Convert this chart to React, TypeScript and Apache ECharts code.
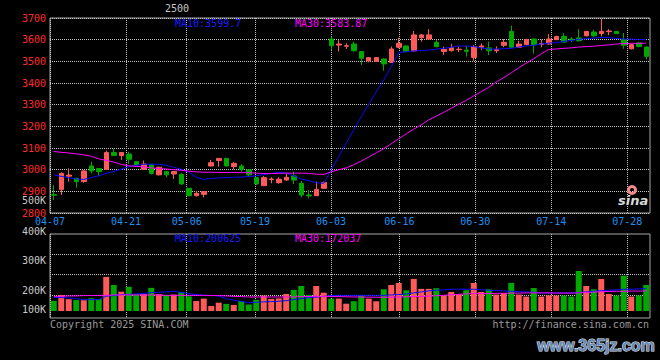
import React, { useEffect, useRef } from 'react';
import * as echarts from 'echarts';

const dates = ['04-07','04-08','04-09','04-10','04-11','04-14','04-15','04-16','04-17','04-18','04-21','04-22','04-23','04-24','04-25','04-28','04-29','04-30','05-06','05-07','05-08','05-09','05-12','05-13','05-14','05-15','05-16','05-19','05-20','05-21','05-22','05-23','05-26','05-27','05-28','05-29','05-30','06-03','06-04','06-05','06-06','06-09','06-10','06-11','06-12','06-13','06-16','06-17','06-18','06-19','06-20','06-23','06-24','06-25','06-26','06-27','06-30','07-01','07-02','07-03','07-04','07-07','07-08','07-09','07-10','07-11','07-14','07-15','07-16','07-17','07-18','07-21','07-22','07-23','07-24','07-25','07-28','07-29','07-30','07-31'];

const tickDates = ['04-07','04-21','05-06','05-19','06-03','06-16','06-30','07-14','07-28'];

const opens = [2885,2909,2970,2960,2945,3017,3005,3002,3079,3065,3072,3037,3002,3022,2976,2991,2980,2979,2914,2880,2886,3017,3042,3052,3014,3017,2999,2963,2926,2955,2940,2952,2971,2937,2883,2880,2914,3603,3575,3570,3580,3545,3502,3499,3511,3495,3565,3571,3548,3609,3603,3588,3545,3549,3554,3552,3518,3565,3562,3549,3574,3638,3565,3577,3603,3578,3580,3600,3615,3603,3608,3618,3635,3628,3637,3638,3600,3558,3585,3566];
const closes = [2882,2983,2975,2945,2994,2994,2991,3079,3065,3079,3048,3022,3026,2983,3011,2976,2991,2934,2880,2891,2899,3032,3052,3017,3029,3002,2976,2934,2963,2957,2956,2965,2952,2883,2879,2909,2940,3572,3580,3572,3549,3514,3517,3517,3488,3557,3583,3545,3622,3622,3622,3568,3555,3563,3556,3546,3568,3571,3549,3554,3588,3565,3580,3600,3577,3582,3603,3615,3589,3598,3595,3638,3618,3638,3640,3628,3574,3577,3569,3523];
const lows = [2860,2883,2945,2917,2940,2983,2971,2998,3063,3045,3026,3020,3000,2978,2974,2965,2957,2930,2876,2876,2872,3015,3014,3015,3002,2991,2968,2930,2924,2937,2934,2950,2934,2872,2868,2878,2912,3552,3545,3557,3545,3483,3495,3497,3457,3493,3560,3542,3545,3591,3600,3565,3529,3545,3542,3522,3502,3552,3529,3538,3565,3563,3563,3575,3535,3565,3578,3598,3586,3589,3592,3615,3611,3615,3620,3626,3558,3555,3565,3508];
const highs = [2929,2988,3006,2962,2998,3037,3008,3088,3096,3080,3083,3040,3042,3027,3014,2993,2993,2983,2915,2902,2901,3045,3054,3054,3035,3026,3000,2966,2971,2965,2965,2983,2991,2948,2906,2945,2945,3614,3598,3583,3591,3547,3520,3520,3513,3568,3609,3574,3640,3625,3649,3598,3568,3580,3568,3572,3575,3583,3591,3569,3603,3665,3595,3602,3605,3600,3626,3618,3631,3611,3649,3640,3646,3695,3649,3640,3631,3580,3587,3568];

const ma10 = [2976,2969,2963,2957,2955,2963,2972,2983,2992,3002,3014,3020,3025,3025,3025,3020,3011,3002,2988,2965,2955,2959,2962,2963,2965,2966,2968,2972,2977,2983,2988,2985,2971,2957,2949,2940,2937,2999,3061,3122,3184,3245,3302,3359,3414,3476,3540,3545,3548,3550,3552,3556,3560,3565,3571,3571,3568,3562,3557,3557,3558,3560,3566,3571,3574,3580,3584,3586,3592,3596,3602,3604,3608,3610,3609,3606,3603,3602,3601,3600];
const ma30 = [3084,3080,3077,3073,3068,3062,3050,3043,3035,3024,3018,3015,3013,3008,3005,3003,3000,2997,2993,2990,2988,2988,2987,2987,2987,2986,2986,2984,2982,2982,2983,2984,2984,2984,2983,2979,2978,2990,3000,3008,3023,3040,3058,3077,3097,3120,3143,3165,3187,3207,3230,3247,3265,3283,3302,3320,3340,3360,3380,3404,3425,3447,3470,3492,3512,3535,3555,3557,3560,3562,3566,3568,3570,3573,3576,3580,3582,3583,3583,3584];

const volumes = [71000,100000,79000,75000,74000,84000,80000,189000,149000,116000,140000,102000,104000,135000,104000,99000,102000,115000,93000,70000,82000,46000,62000,56000,51000,70000,53000,76000,97000,81000,83000,105000,125000,144000,100000,144000,111000,82000,82000,57000,69000,98000,82000,69000,128000,149000,159000,123000,179000,130000,130000,133000,98000,115000,105000,123000,159000,115000,128000,102000,110000,159000,102000,92000,134000,92000,98000,97000,97000,92000,218000,144000,128000,179000,105000,97000,195000,92000,97000,149000];
const volMa10 = [87000,87000,85000,82000,77000,77000,77000,94000,97000,102000,103000,105000,107000,112000,113000,115000,118000,112000,107000,102000,98000,98000,95000,82000,74000,69000,62000,64000,66000,67000,69000,72000,77000,82000,87000,89000,93000,97000,98000,98000,98000,98000,98000,98000,98000,100000,102000,105000,110000,115000,120000,123000,125000,128000,128000,128000,128000,126000,123000,121000,120000,118000,116000,115000,113000,110000,110000,110000,110000,110000,112000,115000,118000,121000,123000,125000,128000,128000,130000,131000];
const volMa30 = [93000,93000,95000,95000,97000,97000,98000,98000,100000,100000,100000,100000,100000,100000,100000,98000,98000,98000,98000,98000,98000,97000,97000,95000,93000,92000,90000,90000,90000,90000,90000,90000,90000,92000,92000,93000,93000,92000,92000,91000,90000,90000,89000,89000,89000,89000,90000,91000,92000,93000,94000,96000,98000,101000,103000,105000,107000,107000,107000,108000,108000,109000,109000,110000,110000,110000,110000,109000,109000,109000,110000,112000,114000,116000,117000,118000,118000,119000,119000,120000];

const volTickLabels = ['100K', '200K', '300K', '400K'];

const UP = '#ff5a5a';
const DOWN = '#00a800';
const GRIDC = '#c4c4c4';
const FRAME = '#a8a8a8';
const MONO = '"DejaVu Sans Mono", monospace';

export default function App() {
  const ref = useRef<HTMLDivElement>(null);
  useEffect(() => {
    const chart = echarts.init(ref.current!, null, { renderer: 'svg' });
    const tickSet = new Set(tickDates);
    const showTick = (_i: number, v: string) => tickSet.has(v);
    const dotted = { color: GRIDC, width: 1, type: [1, 1] };
    const candleData = dates.map((_, i) => [opens[i], closes[i], lows[i], highs[i]]);
    const volData = volumes.map((v, i) => ({ value: v, itemStyle: { color: closes[i] >= opens[i] ? UP : DOWN } }));
    const volRich: any = {};
    const volShift: Record<string, number[]> = { k1: [30, 0, 0, 0], k2: [32, 0, 0, 0], k3: [13, 0, 0, 0], k4: [0, 0, 6, 0] };
    Object.keys(volShift).forEach((k) => {
      volRich[k] = { color: '#c8c8c8', fontFamily: MONO, fontSize: 10, padding: volShift[k] };
    });
    const txt = (text: string, x: number, y: number, fill: string, align = 'left', font = `10px ${MONO}`) => ({
      type: 'text', x, y, silent: true, z: 10,
      style: { text, fill, font, align, verticalAlign: 'middle' },
    });
    const option: any = {
      backgroundColor: '#000',
      animation: false,
      grid: [
        { left: 50, top: 18, width: 600, height: 195, show: true, borderColor: FRAME, borderWidth: 1, backgroundColor: 'transparent' },
        { left: 50, top: 234, width: 600, height: 77, show: false },
        { left: 50, top: 234, width: 600, height: 84, show: true, borderColor: FRAME, borderWidth: 1, backgroundColor: 'transparent' },
      ],
      xAxis: [
        { type: 'category', gridIndex: 0, position: 'top', data: dates, boundaryGap: true, show: false },
        {
          type: 'category', gridIndex: 0, position: 'bottom', data: dates, boundaryGap: false,
          axisLine: { show: false }, axisTick: { show: false },
          axisLabel: { interval: showTick, color: '#2090f0', fontFamily: MONO, fontSize: 10, margin: 3 },
          splitLine: { show: true, interval: showTick, lineStyle: dotted },
        },
        { type: 'category', gridIndex: 1, position: 'bottom', data: dates, boundaryGap: true, show: false },
        {
          type: 'category', gridIndex: 2, position: 'bottom', data: dates, boundaryGap: false,
          axisLine: { show: false }, axisTick: { show: false }, axisLabel: { show: false },
          splitLine: { show: true, interval: showTick, lineStyle: dotted },
        },
      ],
      yAxis: [
        {
          type: 'value', gridIndex: 0, min: 2800, max: 3700, interval: 100,
          axisLine: { show: false }, axisTick: { show: false },
          axisLabel: { color: '#ff2a2a', fontFamily: MONO, fontSize: 10, margin: 4, padding: [0, 0, 3, 0], formatter: (v: number) => String(v) },
          splitLine: { show: true, lineStyle: dotted },
        },
        {
          type: 'value', gridIndex: 1, min: 21000, max: 400000,
          axisLine: { show: false }, axisTick: { show: false },
          axisLabel: {
            color: '#c8c8c8', fontFamily: MONO, fontSize: 10, margin: 4,
            formatter: (v: number) => {
              const k = Math.round(v / 100000);
              if (Math.abs(v - k * 100000) > 1 || k < 1) return '';
              return `{k${k}|${volTickLabels[k - 1]}}`;
            },
            rich: volRich,
          },
          splitLine: { show: true, lineStyle: { ...dotted, color: ['transparent', GRIDC, GRIDC, GRIDC, 'transparent'] } },
        },
        { type: 'value', gridIndex: 2, show: false, splitLine: { show: false } },
      ],
      series: [
        {
          type: 'candlestick', xAxisIndex: 0, yAxisIndex: 0, data: candleData, barWidth: 5, silent: true,
          itemStyle: { color: UP, color0: DOWN, borderColor: UP, borderColor0: DOWN, borderWidth: 1 },
        },
        { type: 'line', xAxisIndex: 0, yAxisIndex: 0, data: ma10, symbol: 'none', silent: true, lineStyle: { color: '#0a0aff', width: 1 } },
        { type: 'line', xAxisIndex: 0, yAxisIndex: 0, data: ma30, symbol: 'none', silent: true, lineStyle: { color: '#ff00ff', width: 1 } },
        { type: 'bar', xAxisIndex: 2, yAxisIndex: 1, data: volData, barWidth: 6, silent: true },
        { type: 'line', xAxisIndex: 2, yAxisIndex: 1, data: volMa10, symbol: 'none', silent: true, lineStyle: { color: '#0a0aff', width: 1 } },
        { type: 'line', xAxisIndex: 2, yAxisIndex: 1, data: volMa30, symbol: 'none', silent: true, lineStyle: { color: '#ff00ff', width: 1 } },
      ],
      graphic: [
        txt('2500', 165, 8, '#c8c8c8'),
        txt('MA10:3599.7', 175, 23, '#1a1aff'),
        txt('MA30:3583.87', 295, 23, '#ff00ff'),
        txt('MA10:200625', 175, 238, '#1a1aff'),
        txt('MA30:172037', 295, 238, '#ff00ff'),
        txt('500K', 46, 200, '#c8c8c8', 'right'),
        txt('Copyright 2025 SINA.COM', 50, 324, '#9a9a9a'),
        txt('http://finance.sina.com.cn', 649, 324, '#9a9a9a', 'right'),
        { type: 'ring', silent: true, z: 10, shape: { cx: 632, cy: 190, r: 5, r0: 2 }, style: { fill: '#f08a8a' } },
        txt('sina', 618, 200, '#d8d8d8', 'left', 'italic bold 13px "DejaVu Sans", sans-serif'),
        {
          type: 'text', x: 596, y: 345, silent: true, z: 10,
          style: {
            text: 'www.365jz.com', fill: '#6a8ab4', stroke: '#e6eef8', lineWidth: 1,
            font: 'bold 16px "Liberation Sans", sans-serif', align: 'center', verticalAlign: 'middle',
          },
        },
      ],
    };
    chart.setOption(option);
    return () => chart.dispose();
  }, []);
  return <div ref={ref} style={{ position: 'fixed', left: 0, top: 0, width: 660, height: 360 }} />;
}
